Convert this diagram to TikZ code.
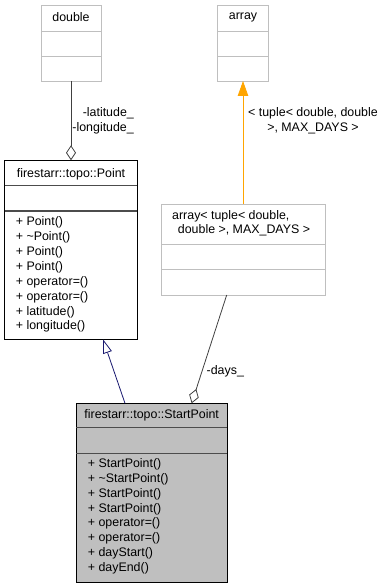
\documentclass[tikz,border=0pt]{standalone}
\usepackage{fontspec}
\setmainfont{Liberation Sans}
\usetikzlibrary{arrows.meta,calc}
\definecolor{edgegray}{HTML}{404040}
\definecolor{boxgray}{HTML}{BFBFBF}
\definecolor{lightframe}{HTML}{BFBFBF}
\definecolor{inherit}{HTML}{191970}
\definecolor{tmpl}{HTML}{FFA500}
\begin{document}
\begin{tikzpicture}[x=1pt,y=-1pt,
  font=\fontsize{12.4}{14.8}\selectfont,
  box/.style={draw, rectangle, inner sep=0pt, outer sep=0pt, line width=0.9pt},
  lightbox/.style={box, draw=lightframe, fill=white},
  darkbox/.style={box, draw=black, fill=white},
  grayfill/.style={box, draw=black, fill=boxgray},
  divlight/.style={draw=lightframe, line width=0.9pt},
  divdark/.style={draw=black!70, line width=1.4pt},
  txt/.style={inner sep=0pt, anchor=center},
  member/.style={inner sep=0pt, anchor=west},
  aggr/.style={draw=edgegray, line width=0.8pt, -{Diamond[open,length=15pt,width=10pt,line width=0.8pt]}},
  gen/.style={draw=inherit, line width=0.8pt, -{Triangle[open,length=14pt,width=9pt,line width=0.8pt,fill=white]}},
  inst/.style={draw=tmpl, line width=0.8pt, -{Triangle[length=15pt,width=10.5pt,fill=tmpl]}},
  lbl/.style={inner sep=0pt, font=\fontsize{12.4}{14.8}\selectfont}
]
\useasboundingbox (0,0) rectangle (386,588);

% class boxes
\node[lightbox, minimum width=60pt, minimum height=75.7pt] (dbl) at (71,43.15) {};
\node[lightbox, minimum width=50.6pt, minimum height=75.7pt] (arr) at (243,43.15) {};
\node[darkbox, minimum width=132.6pt, minimum height=179pt] (pt) at (71,249.8) {};
\node[lightbox, minimum width=164pt, minimum height=90.7pt] (arrt) at (243,249.65) {};
\node[grayfill, minimum width=151.3pt, minimum height=179pt] (sp) at (151.65,492.8) {};

% compartments
\draw[divlight] (41,31) -- (101,31) (41,56.7) -- (101,56.7);
\draw[divlight] (217.7,31) -- (268.3,31) (217.7,56.7) -- (268.3,56.7);
\draw[divdark] (4.7,185.7) -- (137.3,185.7) (4.7,211) -- (137.3,211);
\draw[divlight] (161,244.3) -- (325,244.3) (161,269.7) -- (325,269.7);
\draw[divdark] (76,427.3) -- (227.3,427.3) (76,453.3) -- (227.3,453.3);

% titles
\node[txt] (tdbl) at (71,17.5) {double};
\node[txt] (tarr) at (243,17.5) {array};
\node[txt] (tpt) at (71,174) {firestarr::topo::Point};
\node[member] (tarrt) at (172,216.7) {array< tuple< double,};
\node[txt] (tarrt2) at (244,230.2) {double >, MAX\_DAYS >};
\node[txt] (tsp) at (151.65,415.7) {firestarr::topo::StartPoint};

% members of Point
\foreach \m [count=\i from 0] in {+ Point(),+ \textasciitilde Point(),+ Point(),+ Point(),+ operator=(),+ operator=(),+ latitude(),+ longitude()}
  \node[member] (pm\i) at (15.7,222.7+14.86*\i) {\m};

% members of StartPoint
\foreach \m [count=\i from 0] in {+ StartPoint(),+ \textasciitilde StartPoint(),+ StartPoint(),+ StartPoint(),+ operator=(),+ operator=(),+ dayStart(),+ dayEnd()}
  \node[member] (sm\i) at (87.7,464.3+14.86*\i) {\m};

% connectors
\draw[aggr] (dbl.south) -- (pt.north);
\draw[inst] (arrt.north) -- (arr.south);
\draw[gen] ([xshift=-26.65pt]sp.north) -- ([xshift=32pt]pt.south);
\draw[aggr] ([xshift=-16.3pt]arrt.south) -- ([xshift=40pt]sp.north);

% connector labels
\node[lbl, align=right, anchor=east] (l1) at (134,120.5) {-latitude\_\\-longitude\_};
\node[lbl, align=center] (l2) at (313,120.5) {< tuple< double, double\\>, MAX\_DAYS >};
\node[lbl] (l3) at (225.3,371.7) {-days\_};
\end{tikzpicture}
\end{document}
